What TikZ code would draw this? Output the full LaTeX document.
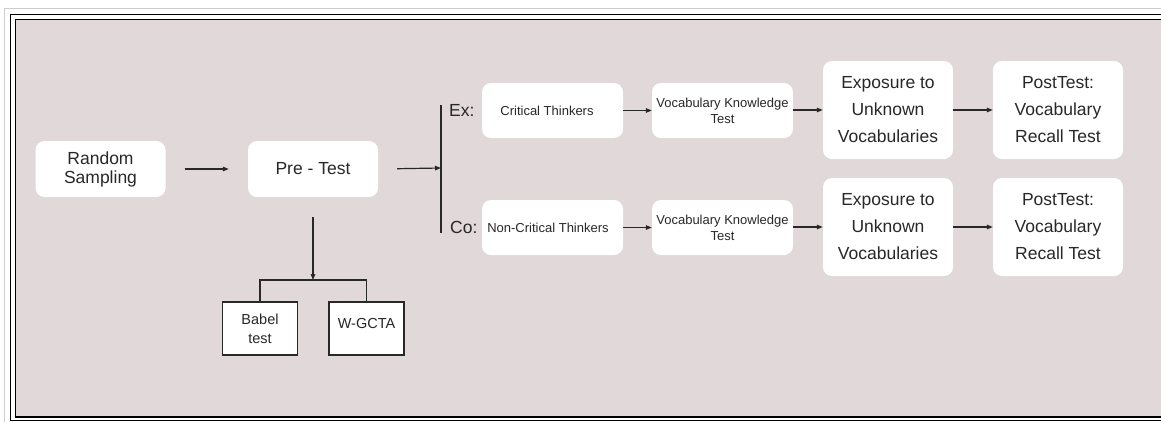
\documentclass[tikz,border=0pt]{standalone}
\usepackage{fontspec}
\setmainfont{Liberation Sans}
\usetikzlibrary{arrows.meta}
\definecolor{bgpink}{RGB}{224,216,217}
\definecolor{ink}{RGB}{40,40,40}
\tikzset{
  wbox/.style={fill=white, draw=none, rounded corners=9pt, align=center, text=ink, inner sep=0pt},
  bigbox/.style={wbox, minimum width=130pt, minimum height=56pt, font=\fontsize{17.5}{19}\selectfont},
  tallbox/.style={wbox, minimum width=130pt, minimum height=98pt, font=\fontsize{17.5}{27}\selectfont},
  midbox/.style={wbox, minimum width=141pt, minimum height=55pt, font=\fontsize{13}{16}\selectfont},
  sqbox/.style={fill=white, draw=ink, line width=1.2pt, minimum width=75pt, minimum height=53pt, align=center, text=ink, inner sep=0pt, font=\fontsize{14.5}{19}\selectfont},
  conn/.style={draw=ink, line width=1.2pt},
  arr/.style={conn, -{Triangle[length=6pt,width=4.5pt]}},
  lab/.style={text=ink, inner sep=0pt, font=\fontsize{17.5}{18}\selectfont}
}
\begin{document}
\begin{tikzpicture}[x=1pt,y=-1pt]
\useasboundingbox (0,0) rectangle (1161,421);
% frame
\draw[draw={rgb,255:red,205;green,205;blue,205}, line width=1pt] (4,8) rectangle (1190,440);
\fill[bgpink] (15,19) rectangle (1190,417);
\draw[black, line width=1.5pt] (10.5,14.5) rectangle (1190,420.5);
\draw[black, line width=1.3pt] (15.5,19.5) rectangle (1185,417);
% nodes
\node[bigbox] (rand) at (100.5,169) {Random\\Sampling};
\node[bigbox] (pre) at (313,169) {Pre - Test};
\coordinate (bartop) at (441,105);
\coordinate (barbot) at (441,233);
\coordinate (barmid) at (441,168);
\node[lab, anchor=west] (ex) at (449,110) {Ex:};
\node[lab, anchor=west] (co) at (450,227) {Co:};
\node[midbox] (crit) at (552.5,110.5) {\hspace*{-11pt}Critical Thinkers};
\node[midbox] (ncrit) at (552.5,227.5) {\hspace*{-9pt}Non-Critical Thinkers};
\node[midbox] (voc1) at (722.5,110.5) {Vocabulary Knowledge\\Test};
\node[midbox] (voc2) at (722.5,227.5) {Vocabulary Knowledge\\Test};
\node[tallbox] (exp1) at (888,110) {Exposure to\\Unknown\\Vocabularies};
\node[tallbox] (exp2) at (888,227) {Exposure to\\Unknown\\Vocabularies};
\node[tallbox] (post1) at (1058,110) {PostTest:\\Vocabulary\\Recall Test};
\node[tallbox] (post2) at (1058,227) {PostTest:\\Vocabulary\\Recall Test};
\coordinate (brk) at (313,280);
\node[sqbox] (babel) at (260,328.5) {Babel\\test};
\node[sqbox, text height=12pt, text depth=12pt] (wgcta) at (366.5,328.5) {W-GCTA};
% connectors
\draw[arr, shorten <=19pt, shorten >=19pt] (rand) -- (pre);
\draw[arr, shorten <=19pt] (pre.east) -- (barmid);
\draw[conn] (bartop) -- (barbot);
\draw[arr] (crit) -- (voc1);
\draw[arr] (ncrit) -- (voc2);
\draw[arr] (voc1.east |- exp1) -- (exp1);
\draw[arr] (voc2.east |- exp2) -- (exp2);
\draw[arr] (exp1) -- (post1);
\draw[arr] (exp2) -- (post2);
\draw[arr, shorten <=20pt] (pre.south) -- (brk);
\draw[conn] (babel.north) |- (brk) -| (wgcta.north);
\end{tikzpicture}
\end{document}
